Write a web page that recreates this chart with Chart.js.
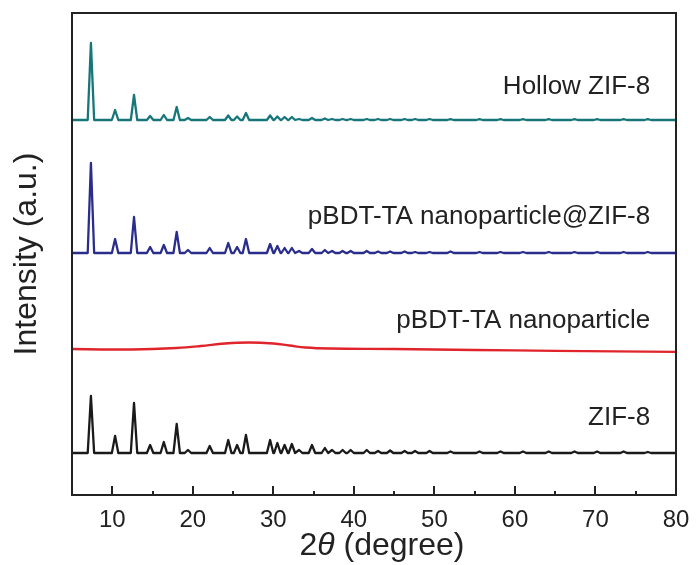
<!DOCTYPE html>
<html>
<head>
<meta charset="utf-8">
<script src="https://cdn.jsdelivr.net/npm/chart.js@4.4.1/dist/chart.umd.min.js"></script>
<style>
html, body { margin: 0; padding: 0; background: #fff; }
</style>
</head>
<body>
<canvas id="xrd" width="696" height="565"></canvas>
<script>
// x axis (2theta) tick labels
var xTicks = [10, 20, 30, 40, 50, 60, 70, 80];
var xMinor = [15, 25, 35, 45, 55, 65, 75];

// ZIF-8 reflections (2theta, degree)
var peakPos = [7.35, 10.35, 12.7, 14.7, 16.4, 18.0, 19.4, 22.1, 24.4, 25.5, 26.6, 29.6, 30.5, 31.4, 32.3, 33.2,
               34.8, 36.4, 37.3, 38.6, 39.6, 41.6, 43.0, 44.5, 46.3, 47.6, 49.4, 52.0, 55.6, 58.2, 61.0, 64.2, 67.4, 70.2, 73.5, 76.5];

// peak heights (a.u.)
var zif8Heights   = [57, 17, 50, 8, 11, 29, 3, 7, 13, 8, 18, 13, 10, 8, 9, 3, 8, 5, 3, 3, 3, 3, 2, 2.5, 2, 2, 2, 1.5, 1.5, 1.5, 1.5, 1.5, 1.5, 1.5, 1.5, 1];
var coreHeights   = [90, 14, 36, 6, 8, 21, 3, 5, 10, 6, 14, 9, 7, 5, 5, 2, 4, 3, 2, 2, 2, 2, 1.5, 1.5, 1.5, 1, 1, 1.5, 1, 1, 1, 1, 1, 1, 1, 1];
var hollowHeights = [77, 10, 25, 4, 5, 13, 2, 3, 4.5, 3.5, 7, 4.5, 3.5, 3, 3, 1, 2, 1.5, 1, 1, 1, 1, 1, 1, 1, 1, 1, 0.8, 0.8, 0.8, 0.8, 0.8, 0.8, 0.8, 0.8, 0.8];

// amorphous pBDT-TA nanoparticle pattern
var pbdtX = [5, 10, 15, 18, 21, 24, 27, 30, 32, 34, 37, 45, 55, 65, 80];
var pbdtY = [146, 145.5, 146, 147, 149, 151.5, 152.5, 151.5, 149.5, 147.5, 146.5, 146, 145, 144.2, 143.2];

// vertical stacking offsets (a.u.)
var offsets = { zif8: 42, core: 242, hollow: 375 };

var names = ['ZIF-8', 'pBDT-TA nanoparticle', 'pBDT-TA nanoparticle@ZIF-8', 'Hollow ZIF-8'];
var colors = ['#1a1a1a', '#e0242c', '#2a2d8c', '#17767a'];
var labelY = [77, 174, 278, 408];

function peakLine(base, heights) {
  var pts = [{ x: 5, y: base }];
  for (var i = 0; i < peakPos.length; i++) {
    if (!heights[i]) continue;
    pts.push({ x: peakPos[i] - 0.4, y: base });
    pts.push({ x: peakPos[i], y: base + heights[i] });
    pts.push({ x: peakPos[i] + 0.4, y: base });
  }
  pts.push({ x: 80, y: base });
  return pts;
}

var pbdtPts = pbdtX.map(function (x, i) { return { x: x, y: pbdtY[i] }; });

var fontFam = '"Liberation Sans", Arial, sans-serif';

var decor = {
  id: 'decor',
  afterDraw: function (chart) {
    var ctx = chart.ctx, a = chart.chartArea;
    var xs = chart.scales.x, ys = chart.scales.y;
    ctx.save();
    ctx.strokeStyle = '#222';
    ctx.lineWidth = 2;
    ctx.strokeRect(a.left, a.top, a.right - a.left, a.bottom - a.top);
    ctx.beginPath();
    xTicks.forEach(function (v) {
      var px = Math.round(xs.getPixelForValue(v));
      ctx.moveTo(px, a.bottom); ctx.lineTo(px, a.bottom - 9);
    });
    xMinor.forEach(function (v) {
      var px = Math.round(xs.getPixelForValue(v));
      ctx.moveTo(px, a.bottom); ctx.lineTo(px, a.bottom - 4);
    });
    ctx.stroke();

    // sample names
    ctx.fillStyle = '#222';
    ctx.font = '26px ' + fontFam;
    ctx.textAlign = 'right';
    ctx.textBaseline = 'middle';
    names.forEach(function (n, i) {
      ctx.fillText(n, xs.getPixelForValue(76.8), ys.getPixelForValue(labelY[i]));
    });

    // x title with italic theta
    var parts = [['2', ''], ['\u03b8', 'italic '], [' (degree)', '']];
    var w = 0;
    parts.forEach(function (p) { ctx.font = p[1] + '32px ' + fontFam; w += ctx.measureText(p[0]).width; });
    var x = (a.left + a.right) / 2 + 8 - w / 2;
    ctx.textAlign = 'left';
    parts.forEach(function (p) {
      ctx.font = p[1] + '32px ' + fontFam;
      ctx.fillText(p[0], x, 546);
      x += ctx.measureText(p[0]).width;
    });
    ctx.restore();
  }
};

new Chart(document.getElementById('xrd'), {
  type: 'line',
  data: {
    datasets: [
      { label: names[0], data: peakLine(offsets.zif8, zif8Heights), borderColor: colors[0] },
      { label: names[1], data: pbdtPts, borderColor: colors[1], tension: 0.4 },
      { label: names[2], data: peakLine(offsets.core, coreHeights), borderColor: colors[2] },
      { label: names[3], data: peakLine(offsets.hollow, hollowHeights), borderColor: colors[3] }
    ]
  },
  options: {
    responsive: false,
    animation: false,
    devicePixelRatio: 1,
    layout: { padding: { top: 13, right: 20, left: 0, bottom: 0 } },
    elements: { point: { radius: 0 }, line: { borderWidth: 2.3, tension: 0, borderJoinStyle: 'round' } },
    plugins: { legend: { display: false }, tooltip: { enabled: false } },
    scales: {
      x: {
        type: 'linear', min: 5, max: 80,
        grid: { display: false },
        border: { display: false },
        afterBuildTicks: function (s) { s.ticks = xTicks.map(function (v) { return { value: v }; }); },
        afterFit: function (s) { s.height = 70; },
        ticks: { color: '#222', padding: 3, font: { family: fontFam, size: 24 }, maxRotation: 0 }
      },
      y: {
        min: 0, max: 482,
        grid: { display: false },
        border: { display: false },
        ticks: { display: false },
        afterFit: function (s) { s.width = 72; },
        title: { display: true, text: 'Intensity (a.u.)', color: '#222', padding: { top: 8, bottom: 0 }, font: { family: fontFam, size: 32 } }
      }
    }
  },
  plugins: [decor]
});
</script>
</body>
</html>
